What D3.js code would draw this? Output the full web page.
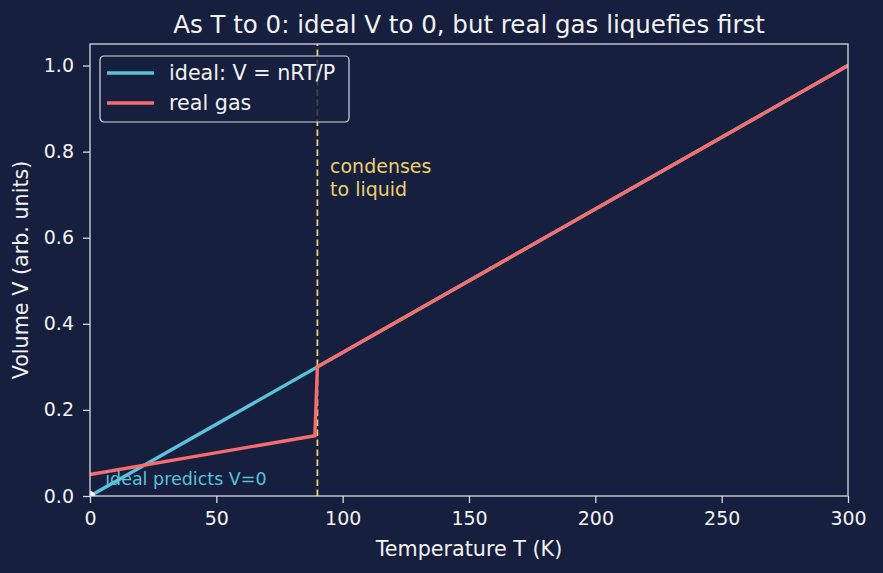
<!DOCTYPE html>
<html>
<head>
<meta charset="utf-8">
<script src="https://cdn.jsdelivr.net/npm/d3@7"></script>
<style>
  body { margin: 0; background: #161f3e; }
  svg { display: block; font-family: "DejaVu Sans", sans-serif; }
</style>
</head>
<body>
<svg id="chart" width="883" height="573"></svg>
<script>
// data
const idealT = [0, 300];
const idealV = [0, 1.0];
const realT = [0, 89, 90, 300];
const realV = [0.05, 0.14, 0.30, 1.0];
const condenseT = 90;
const xTicks = [0, 50, 100, 150, 200, 250, 300];
const yTicks = [0, 0.2, 0.4, 0.6, 0.8, 1.0];

const width = 883, height = 573;
const margins = [44, 35, 77, 90]; // top, right, bottom, left
const [mt, mr, mb, ml] = margins;
const bg = "#161f3e";
const fg = "#f2f2f2";
const edge = "#d6dae3";
const cyan = "#5bc2d9";
const red = "#f76d6d";
const yellow = "#ecd06f";

const svg = d3.select("#chart");
svg.append("rect").attr("width", width).attr("height", height).attr("fill", bg);

const x = d3.scaleLinear().domain([0, 300]).range([ml, width - mr]);
const y = d3.scaleLinear().domain([0, 1.05]).range([height - mb, mt]);

svg.append("clipPath").attr("id", "plotclip")
  .append("rect")
  .attr("x", x(0)).attr("y", y(1.05))
  .attr("width", x(300) - x(0)).attr("height", y(0) - y(1.05));

const plot = svg.append("g").attr("clip-path", "url(#plotclip)");
const line = d3.line().x((d) => x(d[0])).y((d) => y(d[1]));

// condensation marker
plot.append("line")
  .attr("x1", x(condenseT)).attr("x2", x(condenseT))
  .attr("y1", y(0)).attr("y2", y(1.05))
  .attr("stroke", yellow)
  .attr("stroke-width", 1.8)
  .attr("stroke-dasharray", "6.5,3.5");

// ideal gas
plot.append("path")
  .datum(idealT.map((t, i) => [t, idealV[i]]))
  .attr("fill", "none")
  .attr("stroke", cyan)
  .attr("stroke-width", 3.4)
  .attr("d", line);

// real gas
plot.append("path")
  .datum(realT.map((t, i) => [t, realV[i]]))
  .attr("fill", "none")
  .attr("stroke", red)
  .attr("stroke-width", 3.4)
  .attr("d", line);

plot.append("circle")
  .attr("cx", x(0)).attr("cy", y(0)).attr("r", 5)
  .attr("fill", "white");

// annotations
plot.append("text")
  .attr("x", x(6)).attr("y", y(0.025))
  .attr("fill", cyan)
  .style("font-size", "17.5px")
  .text("ideal predicts V=0");

const cond = plot.append("text")
  .attr("y", y(0.75))
  .attr("fill", yellow)
  .style("font-size", "19px");
cond.append("tspan").attr("x", x(95)).attr("dy", 0).text("condenses");
cond.append("tspan").attr("x", x(95)).attr("dy", 22.5).text("to liquid");

// frame
svg.append("rect")
  .attr("x", x(0)).attr("y", y(1.05))
  .attr("width", x(300) - x(0)).attr("height", y(0) - y(1.05))
  .attr("fill", "none").attr("stroke", edge).attr("stroke-width", 1.3);

// axes
const xAxis = svg.append("g")
  .attr("transform", `translate(0,${y(0)})`)
  .call(d3.axisBottom(x).tickValues(xTicks).tickSize(7).tickPadding(9).tickFormat(d3.format("d")));
const yAxis = svg.append("g")
  .attr("transform", `translate(${x(0)},0)`)
  .call(d3.axisLeft(y).tickValues(yTicks).tickSize(7).tickPadding(9).tickFormat(d3.format(".1f")));
[xAxis, yAxis].forEach((g) => {
  g.select(".domain").remove();
  g.selectAll("line").attr("stroke", edge).attr("stroke-width", 1.3);
  g.selectAll("text").attr("fill", fg).style("font-size", "19px").style("font-family", "DejaVu Sans, sans-serif");
});

// labels
svg.append("text")
  .attr("x", (x(0) + x(300)) / 2).attr("y", 556)
  .attr("text-anchor", "middle").attr("fill", fg)
  .style("font-size", "20.7px")
  .text("Temperature T (K)");

svg.append("text")
  .attr("transform", `translate(28,${(y(0) + y(1.05)) / 2}) rotate(-90)`)
  .attr("text-anchor", "middle").attr("fill", fg)
  .style("font-size", "20.7px")
  .text("Volume V (arb. units)");

svg.append("text")
  .attr("x", (x(0) + x(300)) / 2).attr("y", 33)
  .attr("text-anchor", "middle").attr("fill", fg)
  .style("font-size", "24.5px")
  .text("As T to 0: ideal V to 0, but real gas liquefies first");

// legend
const legend = svg.append("g").attr("transform", "translate(100,56)");
legend.append("rect")
  .attr("width", 249).attr("height", 66).attr("rx", 4)
  .attr("fill", bg).attr("fill-opacity", 0.8)
  .attr("stroke", edge).attr("stroke-width", 1.2);
const items = [["ideal: V = nRT/P", cyan], ["real gas", red]];
items.forEach(([label, c], i) => {
  const yy = 17 + i * 30;
  legend.append("line")
    .attr("x1", 7).attr("x2", 54).attr("y1", yy).attr("y2", yy)
    .attr("stroke", c).attr("stroke-width", 3.4);
  legend.append("text")
    .attr("x", 69).attr("y", yy).attr("dy", "0.35em")
    .attr("fill", fg).style("font-size", "20.7px")
    .text(label);
});
</script>
</body>
</html>
